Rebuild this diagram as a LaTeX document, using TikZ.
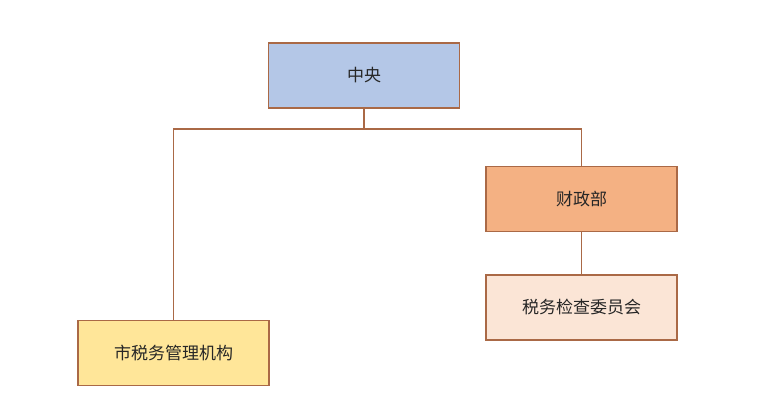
\documentclass[tikz,border=0pt]{standalone}
\usepackage{fontspec}
\setmainfont{Noto Sans CJK SC}
\usepackage{tikz}
\usetikzlibrary{positioning}
\definecolor{edgebrown}{RGB}{170,105,70}
\definecolor{boxblue}{RGB}{180,199,231}
\definecolor{boxorange}{RGB}{244,177,131}
\definecolor{boxpeach}{RGB}{251,229,214}
\definecolor{boxyellow}{RGB}{255,230,153}
\tikzset{
    orgbox/.style={draw=edgebrown, line width=1.2pt, minimum width=191pt, minimum height=65pt, font=\fontsize{17}{19}\selectfont, text=black!85},
    link/.style={draw=edgebrown, line width=1.2pt}
}

\begin{document}
\begin{tikzpicture}[x=1pt, y=-1pt]
        \useasboundingbox (0,0) rectangle (783,411);
        \node[orgbox, fill=boxblue] (zy) at (364,75.5) {中央};
        \node[orgbox, fill=boxorange] (czb) at (581.5,199) {财政部};
        \node[orgbox, fill=boxpeach] (swjc) at (581.5,307.5) {税务检查委员会};
        \node[orgbox, fill=boxyellow] (sgl) at (173.5,353) {市税务管理机构};
        \coordinate (jn) at (364,129);
        \draw[link] (zy.south) -- (jn);
        \draw[link] (jn) -| (sgl.north);
        \draw[link] (jn) -| (czb.north);
        \draw[link] (czb.south) -- (swjc.north);
    \end{tikzpicture}
\end{document}
